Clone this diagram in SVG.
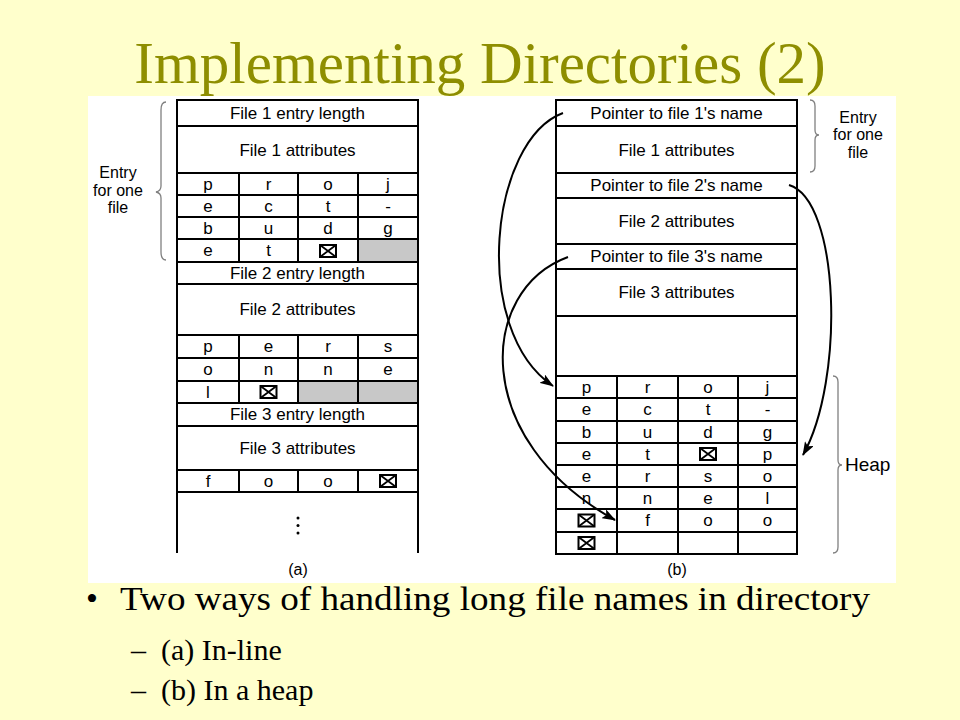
<svg xmlns="http://www.w3.org/2000/svg" width="960" height="720" viewBox="0 0 960 720">
<defs>
<style>
.t{font-family:"Liberation Sans",Arial,sans-serif;font-size:17px;fill:#000;text-anchor:middle}
.lab{font-family:"Liberation Sans",Arial,sans-serif;font-size:16px;fill:#000;text-anchor:middle}
.ln{stroke:#000;stroke-width:2;fill:none}
.cell{fill:#fff;stroke:#000;stroke-width:2}
.gray{fill:#c8c8c8;stroke:#000;stroke-width:2}
.br{stroke:#808080;stroke-width:1.3;fill:none}
.arr{stroke:#000;stroke-width:2;fill:none;marker-end:url(#ah)}
.serif{font-family:"Liberation Serif","Times New Roman",serif;fill:#000}
</style>
<marker id="ah" markerUnits="userSpaceOnUse" markerWidth="14" markerHeight="10" viewBox="0 0 14 10" refX="13" refY="5" orient="auto">
<path d="M0,0 L14,5 L0,10 L3,5 z" fill="#000"/>
</marker>
<g id="xbox">
<rect x="-8" y="-6" width="16" height="12" fill="none" stroke="#000" stroke-width="2"/>
<path d="M-8,-6 L8,6 M8,-6 L-8,6" stroke="#000" stroke-width="1.8"/>
</g>
</defs>
<rect width="960" height="720" fill="#ffffcc"/>
<text x="480" y="83" text-anchor="middle" font-family="Liberation Serif,'Times New Roman',serif" font-size="59" fill="#8e8e00">Implementing Directories (2)</text>
<rect x="88" y="96" width="808" height="487" fill="#fff"/>

<g id="table-a">
<g id="a-entry1">
<rect class="cell" x="177" y="100" width="241" height="26"/>
<text class="t" x="297.5" y="119">File 1 entry length</text>
<rect class="cell" x="177" y="126" width="241" height="47"/>
<text class="t" x="297.5" y="155.5">File 1 attributes</text>
<rect class="cell" x="177" y="173" width="62" height="22"/><rect class="cell" x="239" y="173" width="59" height="22"/><rect class="cell" x="298" y="173" width="60" height="22"/><rect class="cell" x="358" y="173" width="60" height="22"/>
<text class="t" x="208" y="189.5">p</text><text class="t" x="268.5" y="189.5">r</text><text class="t" x="328" y="189.5">o</text><text class="t" x="388" y="189.5">j</text>
<rect class="cell" x="177" y="195" width="62" height="22"/><rect class="cell" x="239" y="195" width="59" height="22"/><rect class="cell" x="298" y="195" width="60" height="22"/><rect class="cell" x="358" y="195" width="60" height="22"/>
<text class="t" x="208" y="211.5">e</text><text class="t" x="268.5" y="211.5">c</text><text class="t" x="328" y="211.5">t</text><text class="t" x="388" y="211.5">-</text>
<rect class="cell" x="177" y="217" width="62" height="22"/><rect class="cell" x="239" y="217" width="59" height="22"/><rect class="cell" x="298" y="217" width="60" height="22"/><rect class="cell" x="358" y="217" width="60" height="22"/>
<text class="t" x="208" y="233.5">b</text><text class="t" x="268.5" y="233.5">u</text><text class="t" x="328" y="233.5">d</text><text class="t" x="388" y="233.5">g</text>
<rect class="cell" x="177" y="239" width="62" height="23"/><rect class="cell" x="239" y="239" width="59" height="23"/><rect class="cell" x="298" y="239" width="60" height="23"/><rect class="gray" x="358" y="239" width="60" height="23"/>
<text class="t" x="208" y="256">e</text><text class="t" x="268.5" y="256">t</text><use href="#xbox" x="328" y="251"/>
</g>
<g id="a-entry2">
<rect class="cell" x="177" y="262" width="241" height="22"/>
<text class="t" x="297.5" y="279">File 2 entry length</text>
<rect class="cell" x="177" y="284" width="241" height="51"/>
<text class="t" x="297.5" y="315">File 2 attributes</text>
<rect class="cell" x="177" y="335" width="62" height="23"/><rect class="cell" x="239" y="335" width="59" height="23"/><rect class="cell" x="298" y="335" width="60" height="23"/><rect class="cell" x="358" y="335" width="60" height="23"/>
<text class="t" x="208" y="352">p</text><text class="t" x="268.5" y="352">e</text><text class="t" x="328" y="352">r</text><text class="t" x="388" y="352">s</text>
<rect class="cell" x="177" y="358" width="62" height="23"/><rect class="cell" x="239" y="358" width="59" height="23"/><rect class="cell" x="298" y="358" width="60" height="23"/><rect class="cell" x="358" y="358" width="60" height="23"/>
<text class="t" x="208" y="375">o</text><text class="t" x="268.5" y="375">n</text><text class="t" x="328" y="375">n</text><text class="t" x="388" y="375">e</text>
<rect class="cell" x="177" y="381" width="62" height="22"/><rect class="cell" x="239" y="381" width="59" height="22"/><rect class="gray" x="298" y="381" width="60" height="22"/><rect class="gray" x="358" y="381" width="60" height="22"/>
<text class="t" x="208" y="397.5">l</text><use href="#xbox" x="268.5" y="392"/>
</g>
<g id="a-entry3">
<rect class="cell" x="177" y="403" width="241" height="23"/>
<text class="t" x="297.5" y="420">File 3 entry length</text>
<rect class="cell" x="177" y="426" width="241" height="44"/>
<text class="t" x="297.5" y="453.5">File 3 attributes</text>
<rect class="cell" x="177" y="470" width="62" height="22"/><rect class="cell" x="239" y="470" width="59" height="22"/><rect class="cell" x="298" y="470" width="60" height="22"/><rect class="cell" x="358" y="470" width="60" height="22"/>
<text class="t" x="208" y="486.5">f</text><text class="t" x="268.5" y="486.5">o</text><text class="t" x="328" y="486.5">o</text><use href="#xbox" x="388" y="481"/>
</g>
<g id="a-rest">
<path class="ln" d="M177,492 V553 M418,492 V553"/>
<circle cx="298" cy="518" r="1.5" fill="#000"/><circle cx="298" cy="525.5" r="1.5" fill="#000"/><circle cx="298" cy="533" r="1.5" fill="#000"/>
</g>
<g id="a-brace">
<path class="br" d="M166,102 Q161,102 161,110 L161,186 Q161,191 156,192 Q161,193 161,198 L161,252 Q161,260 166,260"/>
<text class="lab" x="118" y="178">Entry</text>
<text class="lab" x="118" y="195.5">for one</text>
<text class="lab" x="118" y="213">file</text>
</g>
<text class="lab" x="298" y="575">(a)</text>
</g>

<g id="table-b">
<g id="b-entry1">
<rect class="cell" x="556" y="100" width="241" height="26"/>
<text class="t" x="676.5" y="119">Pointer to file 1's name</text>
<rect class="cell" x="556" y="126" width="241" height="47"/>
<text class="t" x="676.5" y="155.5">File 1 attributes</text>
</g>
<g id="b-entry2">
<rect class="cell" x="556" y="173" width="241" height="25"/>
<text class="t" x="676.5" y="191">Pointer to file 2's name</text>
<rect class="cell" x="556" y="198" width="241" height="46"/>
<text class="t" x="676.5" y="226.5">File 2 attributes</text>
</g>
<g id="b-entry3">
<rect class="cell" x="556" y="244" width="241" height="25"/>
<text class="t" x="676.5" y="262">Pointer to file 3's name</text>
<rect class="cell" x="556" y="269" width="241" height="47"/>
<text class="t" x="676.5" y="298">File 3 attributes</text>
<rect class="cell" x="556" y="316" width="241" height="60"/>
</g>
<g id="b-brace">
<path class="br" d="M810,100 Q815,100 815,106 L815,130 Q815,135 819,135 Q815,135 815,140 L815,166 Q815,172 810,172"/>
<text class="lab" x="858" y="122.5">Entry</text>
<text class="lab" x="858" y="140">for one</text>
<text class="lab" x="858" y="157.5">file</text>
</g>
<text class="lab" x="677" y="575">(b)</text>
</g>

<g id="heap">
<rect class="cell" x="556" y="376" width="61" height="22"/><rect class="cell" x="617" y="376" width="61" height="22"/><rect class="cell" x="678" y="376" width="60" height="22"/><rect class="cell" x="738" y="376" width="59" height="22"/>
<text class="t" x="586.5" y="392.5">p</text><text class="t" x="647.5" y="392.5">r</text><text class="t" x="708" y="392.5">o</text><text class="t" x="767.5" y="392.5">j</text>
<rect class="cell" x="556" y="398" width="61" height="23"/><rect class="cell" x="617" y="398" width="61" height="23"/><rect class="cell" x="678" y="398" width="60" height="23"/><rect class="cell" x="738" y="398" width="59" height="23"/>
<text class="t" x="586.5" y="415">e</text><text class="t" x="647.5" y="415">c</text><text class="t" x="708" y="415">t</text><text class="t" x="767.5" y="415">-</text>
<rect class="cell" x="556" y="421" width="61" height="22"/><rect class="cell" x="617" y="421" width="61" height="22"/><rect class="cell" x="678" y="421" width="60" height="22"/><rect class="cell" x="738" y="421" width="59" height="22"/>
<text class="t" x="586.5" y="437.5">b</text><text class="t" x="647.5" y="437.5">u</text><text class="t" x="708" y="437.5">d</text><text class="t" x="767.5" y="437.5">g</text>
<rect class="cell" x="556" y="443" width="61" height="22"/><rect class="cell" x="617" y="443" width="61" height="22"/><rect class="cell" x="678" y="443" width="60" height="22"/><rect class="cell" x="738" y="443" width="59" height="22"/>
<text class="t" x="586.5" y="459.5">e</text><text class="t" x="647.5" y="459.5">t</text><use href="#xbox" x="708" y="454"/><text class="t" x="767.5" y="459.5">p</text>
<rect class="cell" x="556" y="465" width="61" height="22"/><rect class="cell" x="617" y="465" width="61" height="22"/><rect class="cell" x="678" y="465" width="60" height="22"/><rect class="cell" x="738" y="465" width="59" height="22"/>
<text class="t" x="586.5" y="481.5">e</text><text class="t" x="647.5" y="481.5">r</text><text class="t" x="708" y="481.5">s</text><text class="t" x="767.5" y="481.5">o</text>
<rect class="cell" x="556" y="487" width="61" height="22"/><rect class="cell" x="617" y="487" width="61" height="22"/><rect class="cell" x="678" y="487" width="60" height="22"/><rect class="cell" x="738" y="487" width="59" height="22"/>
<text class="t" x="586.5" y="503.5">n</text><text class="t" x="647.5" y="503.5">n</text><text class="t" x="708" y="503.5">e</text><text class="t" x="767.5" y="503.5">l</text>
<rect class="cell" x="556" y="509" width="61" height="23"/><rect class="cell" x="617" y="509" width="61" height="23"/><rect class="cell" x="678" y="509" width="60" height="23"/><rect class="cell" x="738" y="509" width="59" height="23"/>
<use href="#xbox" x="586.5" y="520.5"/><text class="t" x="647.5" y="526">f</text><text class="t" x="708" y="526">o</text><text class="t" x="767.5" y="526">o</text>
<rect class="cell" x="556" y="532" width="61" height="22"/><rect class="cell" x="617" y="532" width="61" height="22"/><rect class="cell" x="678" y="532" width="60" height="22"/><rect class="cell" x="738" y="532" width="59" height="22"/>
<use href="#xbox" x="586.5" y="543"/>
<path class="br" d="M833,376 Q838,376 838,382 L838,460 Q838,465 842,465 Q838,465 838,470 L838,547 Q838,553 833,553"/>
<text x="845" y="471" font-family="Liberation Sans,Arial,sans-serif" font-size="19">Heap</text>
</g>

<g id="connectors">
<path class="arr" d="M563,113 C490,140 470,330 553,386"/>
<path class="arr" d="M789,185 C840,200 845,380 803,455"/>
<path class="arr" d="M568,257 C478,290 470,440 615,520"/>
</g>

<g id="bullets">
<text class="serif" x="86" y="610" font-size="34">•</text>
<text class="serif" x="120" y="610" font-size="34" textLength="750" lengthAdjust="spacingAndGlyphs">Two ways of handling long file names in directory</text>
<text class="serif" x="131" y="660" font-size="30">–</text>
<text class="serif" x="161" y="660" font-size="30">(a) In-line</text>
<text class="serif" x="131" y="700" font-size="30">–</text>
<text class="serif" x="161" y="700" font-size="30">(b) In a heap</text>
</g>
</svg>
